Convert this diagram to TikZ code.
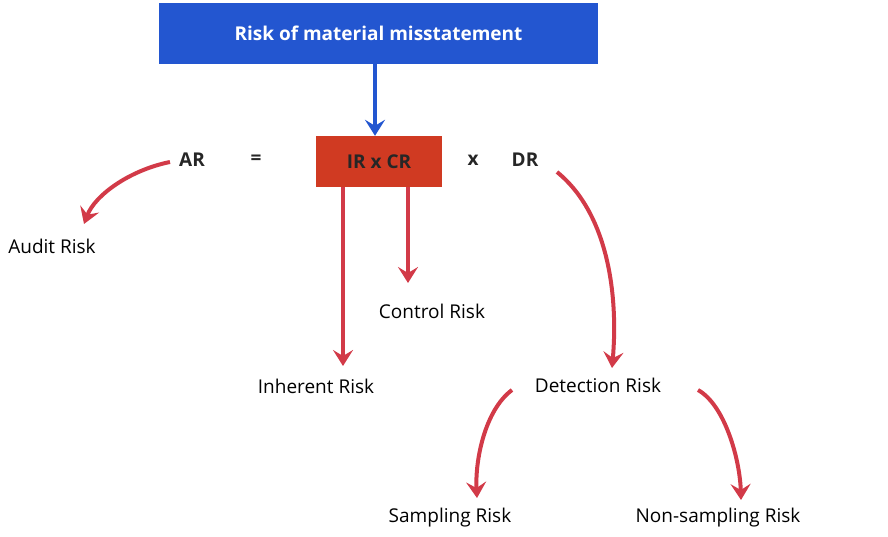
\documentclass[tikz,border=0pt]{standalone}
\usepackage{fontspec}
\setmainfont{Open Sans}
\usetikzlibrary{arrows.meta}
\definecolor{bluebox}{HTML}{2356D0}
\definecolor{redbox}{HTML}{D03A22}
\definecolor{arr}{HTML}{D23A48}
\begin{document}
\begin{tikzpicture}[x=1pt,y=-1pt,
  lbl/.style={font=\fontsize{19}{22}\selectfont, inner sep=0pt},
  bl/.style={lbl, font=\fontsize{19}{22}\selectfont\bfseries, text=black!85},
  ra/.style={draw=arr, line width=4pt, -{Stealth[length=16pt,width=20pt,inset=6pt]}}]
\useasboundingbox (0,0) rectangle (888,536);
\node[fill=bluebox, minimum width=439pt, minimum height=61pt, inner sep=0pt,
  text=white, font=\fontsize{19}{22}\selectfont\bfseries] (rmm) at (378.5,33.5) {Risk of material misstatement};
\node[fill=redbox, minimum width=126pt, minimum height=51pt, inner sep=0pt,
  text=black!85, font=\fontsize{19}{22}\selectfont\bfseries] (irc) at (379,161.5) {IR x CR};
\draw[draw=bluebox, line width=4pt, -{Stealth[length=16pt,width=20pt,inset=6pt]}] (rmm.south -| 375,0) -- (irc.north -| 375,0);
\node[bl] (ar) at (192,160) {AR};
\node[bl] (eq) at (256,160) {=};
\node[bl] (x) at (473,160) {x};
\node[bl] (dr) at (525,160) {DR};
\node[lbl] (audit) at (52,246) {Audit Risk};
\node[lbl] (inh) at (316,386) {Inherent Risk};
\node[lbl] (ctl) at (432,311) {Control Risk};
\node[lbl] (det) at (598,385) {Detection Risk};
\node[lbl] (samp) at (450,518) {Sampling Risk};
\node[lbl] (nons) at (718,518) {Non-sampling Risk};
\coordinate (a1) at (170,162);
\coordinate (a2) at (84,224);
\draw[ra] (a1) .. controls (130,170) and (95,195) .. (a2);
\draw[ra] (irc.south -| 343,0) -- (343,366);
\draw[ra] (irc.south -| 408,0) -- (408,283);
\coordinate (d1) at (557,172);
\coordinate (d2) at (612,368);
\draw[ra] (d1) .. controls (610,215) and (618,300) .. (d2);
\coordinate (s1) at (512,390);
\coordinate (s2) at (477,498);
\draw[ra] (s1) .. controls (485,410) and (475,460) .. (s2);
\coordinate (n1) at (698,390);
\coordinate (n2) at (741,500);
\draw[ra] (n1) .. controls (725,405) and (740,460) .. (n2);
\end{tikzpicture}
\end{document}
